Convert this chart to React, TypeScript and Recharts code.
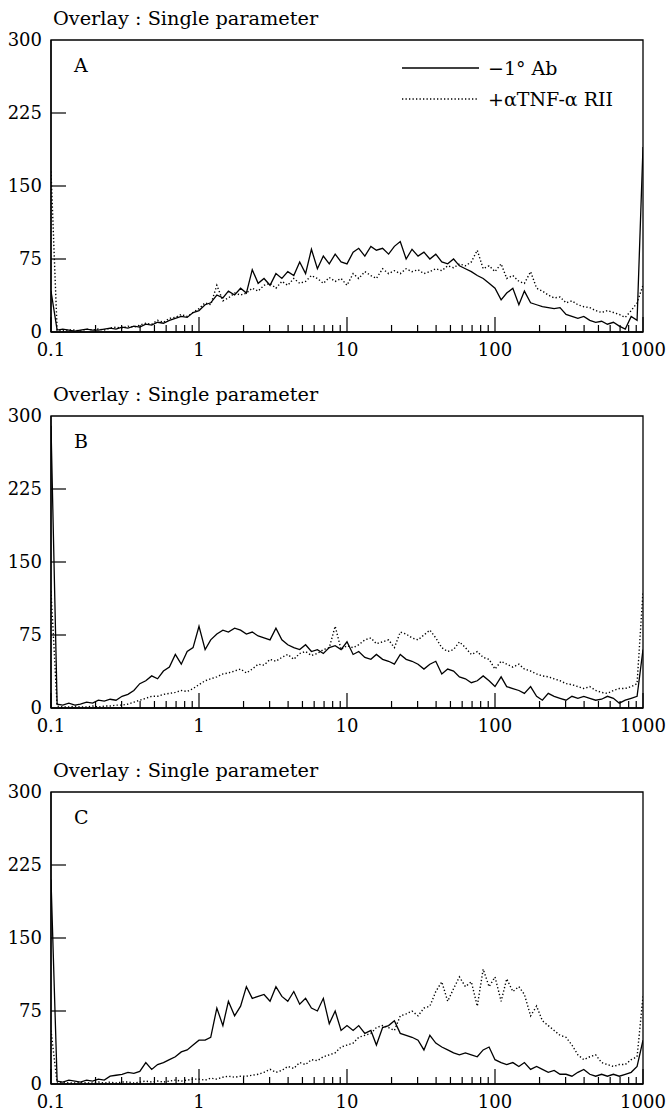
import React from 'react';
import { LineChart, Line, XAxis, YAxis, ReferenceArea, Legend } from 'recharts';

const FONT = '"DejaVu Serif", serif';

// channel positions (log scale, 0.04 decade steps)
const X = [
  0.1, 0.11, 0.12, 0.132, 0.145, 0.158, 0.174, 0.191, 0.209, 0.229, 0.251, 0.275, 0.302, 0.331, 0.363, 0.398, 0.437, 0.479, 0.525, 0.575, 0.631, 0.692, 0.759, 0.832, 0.912,
  1, 1.1, 1.2, 1.32, 1.45, 1.58, 1.74, 1.91, 2.09, 2.29, 2.51, 2.75, 3.02, 3.31, 3.63, 3.98, 4.37, 4.79, 5.25, 5.75, 6.31, 6.92, 7.59, 8.32, 9.12,
  10, 11, 12, 13.2, 14.5, 15.8, 17.4, 19.1, 20.9, 22.9, 25.1, 27.5, 30.2, 33.1, 36.3, 39.8, 43.7, 47.9, 52.5, 57.5, 63.1, 69.2, 75.9, 83.2, 91.2,
  100, 110, 120, 132, 145, 158, 174, 191, 209, 229, 251, 275, 302, 331, 363, 398, 437, 479, 525, 575, 631, 692, 759, 832, 912, 1000,
];

// Panel A
const A_SOLID = [
  42, 2, 3, 2, 1, 2, 3, 2, 2, 3, 4, 3, 5, 4, 6, 5, 8, 7, 10, 9, 12, 14, 16, 15, 20,
  22, 28, 30, 38, 35, 42, 38, 45, 40, 64, 50, 55, 48, 60, 55, 62, 58, 72, 60, 85, 65, 78, 70, 80, 72,
  70, 82, 86, 78, 88, 84, 86, 80, 88, 93, 75, 85, 78, 82, 75, 80, 72, 70, 75, 68, 65, 62, 58, 55, 50,
  45, 33, 40, 45, 28, 42, 30, 28, 26, 25, 24, 25, 18, 16, 14, 16, 12, 10, 11, 8, 10, 6, 3, 16, 12, 190,
];
const A_DOTTED = [
  165, 2, 1, 2, 2, 1, 3, 2, 3, 2, 4, 5, 4, 6, 5, 7, 9, 8, 12, 10, 14, 15, 18, 16, 20,
  24, 30, 28, 48, 32, 35, 40, 38, 40, 45, 42, 48, 50, 45, 52, 48, 55, 50, 52, 58, 55, 50, 56, 52, 55,
  48, 60, 55, 62, 58, 55, 65, 60, 63, 60, 65, 62, 64, 60, 62, 65, 63, 68, 66, 70, 68, 72, 84, 65, 68,
  62, 70, 55, 58, 52, 50, 62, 45, 42, 38, 35, 36, 30, 32, 28, 26, 25, 22, 20, 22, 20, 18, 15, 22, 30, 48,
];

// Panel B
const B_SOLID = [
  290, 4, 3, 5, 3, 4, 6, 5, 8, 7, 9, 8, 12, 14, 18, 25, 28, 33, 30, 38, 42, 55, 45, 58, 62,
  84, 60, 70, 76, 80, 78, 82, 80, 76, 78, 74, 72, 70, 82, 70, 65, 62, 60, 65, 58, 60, 56, 62, 64, 60,
  68, 55, 58, 52, 50, 55, 50, 48, 45, 55, 50, 48, 45, 40, 45, 48, 35, 40, 38, 32, 30, 26, 28, 33, 28,
  22, 32, 22, 20, 18, 15, 22, 12, 8, 15, 12, 10, 8, 12, 10, 12, 10, 8, 9, 12, 10, 5, 8, 10, 12, 60,
];
const B_DOTTED = [
  120, 2, 1, 1, 2, 1, 1, 2, 1, 2, 2, 3, 3, 4, 6, 8, 10, 12, 12, 14, 15, 16, 18, 17, 20,
  24, 28, 30, 32, 35, 36, 38, 40, 36, 40, 45, 44, 50, 48, 52, 55, 50, 56, 58, 54, 56, 60, 62, 84, 60,
  64, 62, 65, 70, 72, 66, 68, 70, 62, 78, 76, 72, 70, 75, 80, 72, 62, 58, 60, 68, 62, 55, 58, 52, 50,
  40, 48, 45, 42, 45, 40, 38, 35, 33, 32, 30, 28, 25, 24, 22, 20, 22, 18, 16, 15, 18, 20, 20, 22, 25, 120,
];

// Panel C
const C_SOLID = [
  210, 3, 2, 4, 3, 2, 4, 3, 5, 4, 8, 9, 10, 12, 11, 13, 22, 15, 20, 22, 25, 28, 33, 35, 40,
  45, 45, 48, 78, 60, 85, 70, 80, 100, 88, 90, 92, 85, 100, 90, 85, 95, 82, 88, 78, 75, 88, 62, 75, 55,
  60, 55, 60, 52, 55, 40, 58, 60, 65, 52, 50, 48, 45, 35, 50, 42, 38, 35, 32, 30, 32, 30, 28, 35, 38,
  25, 22, 20, 22, 18, 22, 15, 18, 15, 12, 14, 10, 10, 8, 12, 15, 10, 8, 10, 8, 10, 8, 10, 12, 18, 45,
];
const C_DOTTED = [
  55, 1, 2, 1, 1, 2, 1, 1, 2, 1, 2, 1, 2, 2, 1, 2, 3, 2, 3, 2, 3, 4, 3, 4, 5,
  5, 4, 6, 5, 7, 8, 7, 8, 8, 9, 10, 12, 15, 12, 14, 18, 16, 22, 20, 25, 24, 28, 30, 32, 38,
  40, 42, 48, 50, 52, 58, 60, 58, 55, 70, 72, 75, 70, 78, 80, 95, 105, 85, 98, 110, 100, 105, 80, 118, 100,
  110, 85, 108, 95, 100, 92, 70, 80, 65, 60, 55, 50, 48, 40, 30, 25, 28, 30, 22, 20, 18, 20, 20, 25, 28, 90,
];

const X_TICKS = [
  0.1, 0.2, 0.3, 0.4, 0.5, 0.6, 0.7, 0.8, 0.9,
  1, 2, 3, 4, 5, 6, 7, 8, 9,
  10, 20, 30, 40, 50, 60, 70, 80, 90,
  100, 200, 300, 400, 500, 600, 700, 800, 900, 1000,
];
const X_MAJOR = [0.1, 1, 10, 100, 1000];
const Y_TICKS = [0, 75, 150, 225, 300];

const TITLE = 'Overlay : Single parameter';
const SERIES_NAMES = ['\u22121\u00b0 Ab', '+\u03b1TNF-\u03b1 RII'];
const PANEL_LETTERS = ['A', 'B', 'C'];

const toData = (ys: number[]) => X.map((x, i) => ({ x, y: ys[i] }));

const XTick = (props: any) => {
  const { x, y, payload } = props;
  const v = payload.value;
  const major = X_MAJOR.includes(v);
  return (
    <g>
      <line x1={x} y1={y} x2={x} y2={y - (major ? 15 : 7)} stroke="#000" strokeWidth={1.2} />
      {major && (
        <text x={x} y={y + 24} textAnchor="middle" fontFamily={FONT} fontSize={18} fill="#000">
          {String(v)}
        </text>
      )}
    </g>
  );
};

const YTick = (props: any) => {
  const { x, y, payload } = props;
  const v = payload.value;
  return (
    <g>
      {v > 0 && v < 300 && <line x1={x} y1={y} x2={x + 15} y2={y} stroke="#000" strokeWidth={1.2} />}
      <text x={x - 9} y={y} dy="0.36em" textAnchor="end" fontFamily={FONT} fontSize={18} fill="#000">
        {String(v)}
      </text>
    </g>
  );
};

const LegendContent = () => (
  <div style={{ fontFamily: FONT, fontSize: 19, color: '#000' }}>
    {SERIES_NAMES.map((name, i) => (
      <div key={i} style={{ display: 'flex', alignItems: 'center', height: 31, whiteSpace: 'nowrap' }}>
        <svg width={77} height={10} style={{ display: 'block' }}>
          <line x1={0} y1={5} x2={77} y2={5} stroke="#000" strokeWidth={1.4} strokeDasharray={i === 1 ? '1.3 2.2' : undefined} />
        </svg>
        <span style={{ marginLeft: 9 }}>{name}</span>
      </div>
    ))}
  </div>
);

const Panel = ({ letter, solid, dotted, legend }: { letter: string; solid: number[]; dotted: number[]; legend: boolean }) => (
  <LineChart width={670} height={376} margin={{ top: 40, right: 27, left: 0, bottom: 0 }}>
    <text x={53} y={25} fontFamily={FONT} fontSize={19.3} fill="#000">{TITLE}</text>
    <text x={74} y={72} fontFamily={FONT} fontSize={19} fill="#000">{letter}</text>
    <XAxis
      type="number"
      dataKey="x"
      scale="log"
      domain={[0.1, 1000]}
      allowDataOverflow
      ticks={X_TICKS}
      interval={0}
      tickSize={0}
      tickMargin={0}
      tickLine={false}
      tick={<XTick />}
      axisLine={{ stroke: '#000', strokeWidth: 1.3 }}
      height={44}
    />
    <YAxis
      type="number"
      dataKey="y"
      domain={[0, 300]}
      allowDataOverflow
      ticks={Y_TICKS}
      interval={0}
      tickSize={0}
      tickMargin={0}
      tickLine={false}
      tick={<YTick />}
      axisLine={{ stroke: '#000', strokeWidth: 1.3 }}
      width={51}
    />
    <ReferenceArea x1={0.1} x2={1000} y1={0} y2={300} fill="none" stroke="#000" strokeWidth={1.3} ifOverflow="visible" />
    <Line
      data={toData(solid)}
      dataKey="y"
      name={SERIES_NAMES[0]}
      type="linear"
      stroke="#000"
      strokeWidth={1.3}
      dot={false}
      isAnimationActive={false}
    />
    <Line
      data={toData(dotted)}
      dataKey="y"
      name={SERIES_NAMES[1]}
      type="linear"
      stroke="#000"
      strokeWidth={1.4}
      strokeDasharray="1.3 2.2"
      dot={false}
      isAnimationActive={false}
    />
    {legend && (
      <Legend
        layout="vertical"
        align="center"
        verticalAlign="middle"
        content={<LegendContent />}
        wrapperStyle={{ left: 402, top: 52, width: 250, right: 'auto', bottom: 'auto' }}
      />
    )}
  </LineChart>
);

export default function App() {
  const panels = [
    { solid: A_SOLID, dotted: A_DOTTED, legend: true },
    { solid: B_SOLID, dotted: B_DOTTED, legend: false },
    { solid: C_SOLID, dotted: C_DOTTED, legend: false },
  ];
  return (
    <div style={{ position: 'absolute', left: 0, top: 0, width: 670, height: 1111, background: '#fff' }}>
      {panels.map((p, i) => (
        <div key={i} style={{ position: 'absolute', left: 0, top: i * 376, width: 670, height: 376 }}>
          <Panel letter={PANEL_LETTERS[i]} solid={p.solid} dotted={p.dotted} legend={p.legend} />
        </div>
      ))}
    </div>
  );
}
